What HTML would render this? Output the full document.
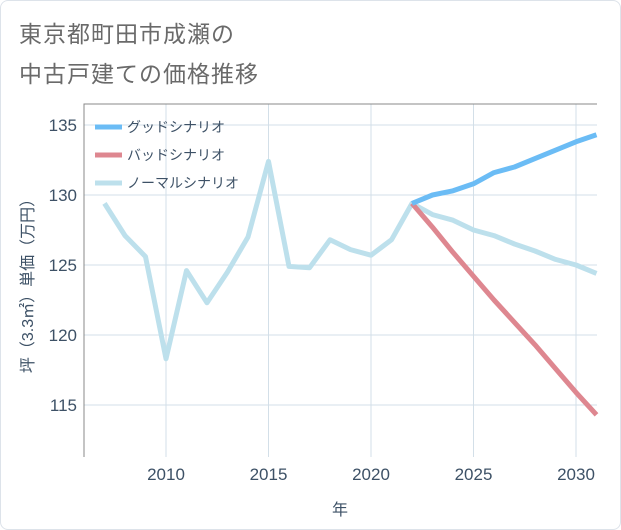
<!DOCTYPE html>
<html><head><meta charset="utf-8"><style>
body{margin:0;background:#fff;font-family:"Liberation Sans","Noto Sans CJK JP",sans-serif}
#wrap{position:relative;width:619px;height:528px;border:1px solid #dde3ea;border-radius:8px;overflow:hidden;background:#fff}
.t{position:absolute;left:18px;font-size:23px;color:#6a6a6a;letter-spacing:1px}
</style></head><body>
<div id="wrap">
<div class="t" style="top:14px">東京都町田市成瀬の</div>
<div class="t" style="top:54px">中古戸建ての価格推移</div>
<svg id="c" width="621" height="530" style="position:absolute;left:-1px;top:-1px"></svg>
</div>
<script>
const years=[2007,2008,2009,2010,2011,2012,2013,2014,2015,2016,2017,2018,2019,2020,2021,2022,2023,2024,2025,2026,2027,2028,2029,2030,2031];
const normal=[129.4,127.1,125.6,118.3,124.6,122.3,124.5,127.0,132.4,124.9,124.8,126.8,126.1,125.7,126.8,129.4,128.6,128.2,127.5,127.1,126.5,126.0,125.4,125.0,124.4];
const fYears=[2022,2023,2024,2025,2026,2027,2028,2029,2030,2031];
const good=[129.4,130.0,130.3,130.8,131.6,132.0,132.6,133.2,133.8,134.3];
const bad=[129.4,127.7,125.9,124.2,122.5,120.9,119.3,117.6,115.9,114.3];
const xTicks=[2010,2015,2020,2025,2030];
const yTicks=[115,120,125,130,135];
const X0=84,X1=597,Y0=104,Y1=457;
const x=v=>166+(v-2010)*20.5;
const y=v=>125+(135-v)*14;
const svg=document.getElementById('c');const NS='http://www.w3.org/2000/svg';
function mk(t,a,p){const e=document.createElementNS(NS,t);for(const k in a)e.setAttribute(k,a[k]);(p||svg).appendChild(e);return e;}
for(const t of xTicks){const l=mk('line',{x1:x(t),x2:x(t),y1:Y0,y2:Y1,stroke:'#d3dfe8'});


const tx=mk('text',{x:x(t),y:480,'text-anchor':'middle','font-size':17,fill:'#3d5166'});tx.textContent=t;

}
for(const t of yTicks){const l=mk('line',{x1:X0,x2:X1,y1:y(t),y2:y(t),stroke:'#d3dfe8'});


const tx=mk('text',{x:77,y:y(t)+6,'text-anchor':'end','font-size':17,fill:'#3d5166'});tx.textContent=t;

}
const ax=mk('path',{d:`M${X0},${Y1}V${Y0}H${X1}`,fill:'none',stroke:'#888'});


function line(xs,ys,col,name){const p=mk('polyline',{points:xs.map((v,i)=>x(v)+','+y(ys[i])).join(' '),fill:'none',stroke:col,'stroke-width':5,'stroke-linejoin':'round'});

}
line(years,normal,'#bde0ec','normal-scenario-line');
line(fYears,bad,'#de8790','bad-scenario-line');
line(fYears,good,'#6bbcf5','good-scenario-line');
const leg=[['グッドシナリオ','#6bbcf5'],['バッドシナリオ','#de8790'],['ノーマルシナリオ','#bde0ec']];
leg.forEach((d,i)=>{const yy=127+i*28;const l=mk('line',{x1:95,x2:122,y1:yy,y2:yy,stroke:d[1],'stroke-width':5});


const t=mk('text',{x:127,y:yy+5,'font-size':14,fill:'#3d5166'});t.textContent=d[0];

});
const xt=mk('text',{x:340,y:515,'text-anchor':'middle','font-size':16,fill:'#3d5166'});xt.textContent='年';


const yt=mk('text',{x:0,y:0,'text-anchor':'middle','font-size':16,fill:'#3d5166',transform:'translate(33,282) rotate(-90)'});yt.textContent='坪（3.3㎡）単価（万円）';


</script>
</body></html>
